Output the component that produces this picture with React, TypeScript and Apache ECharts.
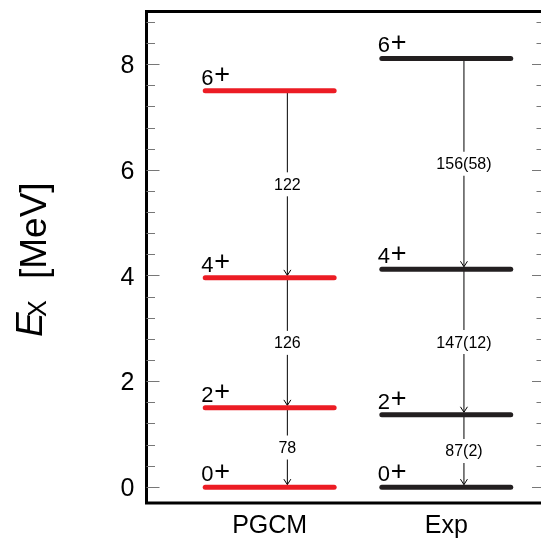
import React, { useEffect, useRef } from "react";
import * as echarts from "echarts";

const MODELS = ["PGCM", "Exp"];
const SPINS = ["0", "2", "4", "6"];
const PGCM_ENERGIES = [0, 1.5, 3.96, 7.5];
const EXP_ENERGIES = [0, 1.369, 4.123, 8.113];
const PGCM_BE2 = ["78", "126", "122"];
const EXP_BE2 = ["87(2)", "147(12)", "156(58)"];
const Y_MAJOR = [0, 2, 4, 6, 8];
const Y_MINOR = [0.4, 0.8, 1.2, 1.6, 2.4, 2.8, 3.2, 3.6, 4.4, 4.8, 5.2, 5.6, 6.4, 6.8, 7.2, 7.6, 8.4, 8.8];

const FONT = '"Liberation Sans", Arial, Helvetica, sans-serif';
const COLORS = ["#ec1c24", "#231f20"];
const HW = 0.365;
const ARROW_OFF = 0.1;
const XMIN = 0.3024;
const XMAX = 2.559;

export default function App() {
  const ref = useRef<HTMLDivElement>(null);
  useEffect(() => {
    if (!ref.current) return;
    const chart = echarts.init(ref.current, null, { renderer: "svg" });
    const energies = [PGCM_ENERGIES, EXP_ENERGIES];
    const be2 = [PGCM_BE2, EXP_BE2];
    const levelData: number[][] = [];
    const transData: number[][] = [];
    energies.forEach((arr, mi) => {
      arr.forEach((e, li) => {
        levelData.push([mi + 1, e, li, mi]);
        if (li > 0) transData.push([mi + 1, arr[li], arr[li - 1], li - 1, mi]);
      });
    });

    const yBase = (pos: "left" | "right", vals: number[], len: number, labels: boolean) => ({
      type: "value",
      min: -0.3,
      max: 9,
      position: pos,
      axisLine: { show: false },
      splitLine: { show: false },
      axisTick: {
        show: true,
        inside: true,
        length: len,
        customValues: vals,
        lineStyle: { color: "#777", width: 1 },
      },
      axisLabel: labels
        ? { show: true, customValues: Y_MAJOR, fontSize: 25, color: "#000", fontFamily: FONT, margin: 12 }
        : { show: false },
    });

    const option: any = {
      animation: false,
      grid: {
        show: true,
        left: 146.5,
        top: 11.5,
        width: 398.5,
        height: 491.5,
        borderColor: "#000",
        borderWidth: 3,
        backgroundColor: "transparent",
      },
      xAxis: {
        type: "value",
        min: XMIN,
        max: XMAX,
        axisLine: { show: false },
        axisTick: { show: false },
        splitLine: { show: false },
        axisLabel: {
          customValues: [1, 2],
          formatter: (v: number) => MODELS[Math.round(v) - 1] || "",
          fontSize: 25,
          color: "#000",
          fontFamily: FONT,
          margin: 8,
        },
      },
      yAxis: [
        yBase("left", Y_MAJOR, 13, true),
        yBase("left", Y_MINOR, 8.5, false),
        yBase("right", Y_MAJOR, 13, false),
        yBase("right", Y_MINOR, 8.5, false),
      ],
      graphic: [
        {
          type: "group",
          x: 46,
          y: 337,
          rotation: Math.PI / 2,
          children: [
            {
              type: "text",
              x: 0,
              y: -4 - 12.8,
              style: { text: "E", font: `italic 37px ${FONT}`, fill: "#000", verticalAlign: "middle", align: "left" },
            },
            {
              type: "text",
              x: 20,
              y: -8.7,
              style: { text: "X", font: `25px ${FONT}`, fill: "#000", verticalAlign: "middle", align: "left" },
            },
            {
              type: "text",
              x: 58,
              y: -12.8,
              style: { text: "[MeV]", font: `37px ${FONT}`, fill: "#000", verticalAlign: "middle", align: "left" },
            },
          ],
        },
      ],
      series: [
        {
          type: "custom",
          coordinateSystem: "cartesian2d",
          clip: false,
          encode: { x: 0, y: 1 },
          data: levelData,
          z: 3,
          renderItem: (params: any, api: any) => {
            const c = api.value(0);
            const e = api.value(1);
            const li = api.value(2);
            const mi = api.value(3);
            const p1 = api.coord([c - HW, e]);
            const p2 = api.coord([c + HW, e]);
            return {
              type: "group",
              children: [
                {
                  type: "line",
                  shape: { x1: p1[0], y1: p1[1], x2: p2[0], y2: p2[1] },
                  style: { stroke: COLORS[mi], lineWidth: 5, lineCap: "round" },
                },
                {
                  type: "text",
                  x: p1[0] - 4,
                  y: p1[1] - 13.5,
                  style: { text: SPINS[li], font: `22px ${FONT}`, fill: "#000", align: "left", verticalAlign: "middle" },
                },
                {
                  type: "text",
                  x: p1[0] + 9,
                  y: p1[1] - 16.5,
                  style: { text: "+", font: `27px ${FONT}`, fill: "#000", align: "left", verticalAlign: "middle" },
                },
              ],
            };
          },
        },
        {
          type: "custom",
          coordinateSystem: "cartesian2d",
          clip: false,
          encode: { x: 0, y: 1 },
          data: transData,
          z: 2,
          renderItem: (params: any, api: any) => {
            const c = api.value(0);
            const eu = api.value(1);
            const el = api.value(2);
            const ti = api.value(3);
            const mi = api.value(4);
            const top = api.coord([c + ARROW_OFF, eu]);
            const bot = api.coord([c + ARROW_OFF, el]);
            const mid = api.coord([c + ARROW_OFF, (eu + el) / 2]);
            const x = top[0];
            const tipY = bot[1] - 2.5;
            return {
              type: "group",
              children: [
                {
                  type: "line",
                  shape: { x1: x, y1: top[1], x2: x, y2: tipY },
                  style: { stroke: "#000", lineWidth: 1 },
                },
                {
                  type: "polyline",
                  shape: { points: [[x - 3.5, tipY - 5.5], [x, tipY], [x + 3.5, tipY - 5.5]] },
                  style: { stroke: "#000", lineWidth: 1, fill: null },
                },
                {
                  type: "text",
                  x: x,
                  y: mid[1],
                  style: {
                    text: be2[mi][ti],
                    font: `16px ${FONT}`,
                    fill: "#000",
                    align: "center",
                    verticalAlign: "middle",
                    backgroundColor: "#fff",
                    padding: [4, 1],
                  },
                },
              ],
            };
          },
        },
      ],
    };
    chart.setOption(option);
    return () => chart.dispose();
  }, []);
  return <div ref={ref} style={{ position: "fixed", left: 0, top: 0, width: 550, height: 540 }} />;
}
